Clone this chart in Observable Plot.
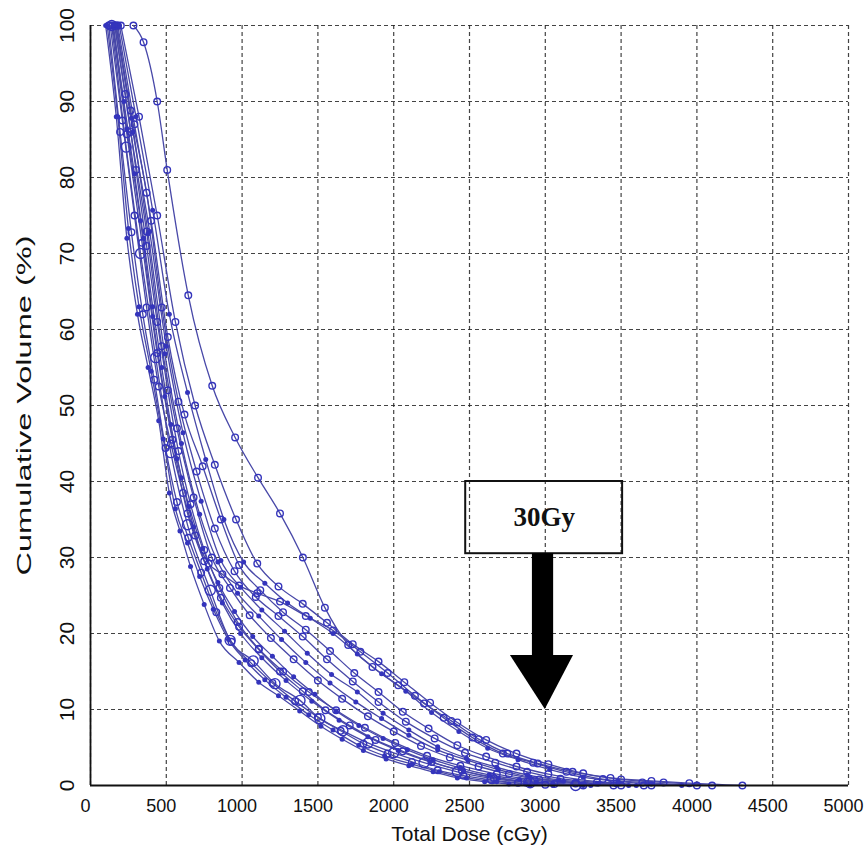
<!DOCTYPE html>
<html>
<head>
<meta charset="utf-8">
<script src="https://cdn.jsdelivr.net/npm/d3@7"></script>
<script src="https://cdn.jsdelivr.net/npm/@observablehq/plot@0.6"></script>
<style>
  html, body { margin: 0; padding: 0; background: white; }
  #chart svg { display: block; }
</style>
</head>
<body>
<div id="chart"></div>
<script>
// Each curve: [dose (cGy), cumulative volume (%)]
const curve01 = [[100,100],[170,88],[240,72],[310,62],[380,55],[450,48],[520,38.5],[590,33.5],[660,28.8],[750,23.8],[850,19],[980,16.2],[1110,13.6],[1240,11.8],[1380,9.8],[1520,7.8],[1660,6.1],[1800,4.6],[1950,3.5],[2100,2.6],[2260,1.8],[2420,1],[2600,0.5],[2760,0.2],[2900,0]];
const curve02 = [[120,100],[195,86],[270,72.8],[345,62],[420,53.4],[495,44.4],[570,37.3],[645,32.6],[730,28],[830,22.8],[930,18.9],[1060,16.1],[1200,13.5],[1350,11.1],[1500,9],[1650,7.2],[1800,5.5],[1960,4.2],[2120,3.1],[2290,2],[2460,1.3],[2640,0.75],[2820,0.35],[3000,0.1]];
const curve03 = [[140,100],[235,84],[330,70],[430,56.3],[530,43.8],[640,34.3],[790,25.7],[921,19.1],[1073,16.4],[1217,13.4],[1382,11.2],[1513,8.8],[1665,7.2],[1830,5.6],[2000,4.3],[2200,3],[2420,1.8],[2650,0.9],[2900,0.35],[3200,0]];
const curve04 = [[150,100],[240,86.4],[330,74.3],[410,61.7],[490,51.2],[570,43],[650,36.7],[740,31.2],[840,26.7],[950,22.9],[1070,19.6],[1200,17],[1340,14.3],[1480,12],[1620,9.8],[1770,7.9],[1930,6.2],[2090,4.7],[2260,3.4],[2440,2.3],[2630,1.4],[2830,0.8],[3050,0.3],[3300,0]];
const curve05 = [[160,100],[265,86],[370,72.9],[470,57.8],[570,47],[680,37.9],[800,30],[920,26],[1050,22.4],[1190,19.4],[1340,16.6],[1500,13.8],[1660,11.4],[1830,9.1],[2000,7.1],[2180,5.2],[2370,3.7],[2560,2.5],[2760,1.5],[2960,0.8],[3200,0.35],[3500,0]];
const curve06 = [[170,100],[280,86],[390,72.9],[500,57.8],[610,46.4],[730,37.4],[860,29.6],[990,26.1],[1130,23.1],[1280,20.3],[1430,17.4],[1590,14.6],[1760,12.3],[1930,9.5],[2100,7.3],[2290,5.1],[2480,3.6],[2680,2.4],[2880,1.4],[3090,0.75],[3340,0.3],[3600,0]];
const curve07 = [[180,100],[290,87],[400,74.3],[510,59],[620,48.8],[740,42],[860,35],[980,29],[1120,25.7],[1270,22.8],[1420,20.5],[1580,17.7],[1740,14.8],[1900,12.3],[2060,9.7],[2230,7.5],[2420,5.3],[2610,3.8],[2810,2.5],[3020,1.5],[3240,0.75],[3470,0.3],[3700,0]];
const curve08 = [[190,100],[300,88],[410,75.7],[520,62],[640,51.7],[760,42.9],[880,35],[1010,29.4],[1150,26.6],[1300,24],[1450,22],[1600,20],[1760,17.3],[1920,14.7],[2080,12.4],[2250,9.6],[2430,7.1],[2620,4.9],[2820,3.4],[3030,2.1],[3250,1.1],[3480,0.55],[3700,0.2],[3900,0]];
const curve09 = [[130,100],[210,87.5],[290,75],[370,62.9],[450,52.5],[530,45],[610,38.5],[690,32.9],[780,29.2],[870,27.8],[980,26.3],[1100,25.3],[1250,24.2],[1420,22.3],[1600,20.4],[1780,17.6],[1960,14.8],[2140,11.8],[2330,8.9],[2520,6.3],[2720,4.2],[2920,3],[3140,1.8],[3380,0.85],[3640,0.4],[4000,0]];
const curve10 = [[200,100],[320,88],[440,75],[560,61],[690,50],[820,42.2],[960,35],[1100,29.2],[1240,26.2],[1400,23.9],[1560,21.4],[1730,18.6],[1900,16.3],[2070,13.6],[2240,10.9],[2420,8.3],[2610,6],[2810,4.2],[3020,2.8],[3250,1.6],[3500,0.8],[3780,0.4],[4100,0]];
const curve11 = [[110,100],[180,88],[250,73.3],[320,63],[400,54.5],[480,45.6],[560,36.4],[640,31.9],[720,27.5],[810,23.2],[910,19.2],[1020,16.5],[1150,13.9],[1290,11.6],[1440,9.3],[1600,7.3],[1770,5.3],[1940,3.9],[2120,2.8],[2300,1.8],[2480,1],[2680,0.5],[2870,0.2],[3050,0]];
const curve12 = [[175,100],[265,88.8],[370,78],[470,62.9],[580,50.5],[700,41.3],[820,33.8],[950,28.2],[1090,24.8],[1240,22.3],[1400,19.6],[1560,16.6],[1730,13.7],[1900,11],[2080,8.4],[2270,6.2],[2470,4.3],[2670,3],[2880,1.8],[3100,0.9],[3340,0.4],[3650,0]];
const curve13 = [[165,100],[270,87.8],[380,72.6],[490,56.8],[600,45],[720,35.7],[840,29.4],[970,25.3],[1110,22.3],[1260,19.2],[1420,16.2],[1580,13.5],[1750,11],[1920,8.8],[2100,6.6],[2290,4.7],[2490,3.3],[2690,2.1],[2900,1.1],[3120,0.55],[3350,0.2],[3550,0]];
const curve14 = [[145,100],[240,85.7],[340,71.4],[440,56.9],[540,45.5],[640,35.8],[750,29.5],[860,24.7],[980,20.9],[1110,17.9],[1250,15],[1400,12.4],[1550,9.9],[1710,7.9],[1880,6],[2060,4.5],[2250,3.1],[2450,1.95],[2660,1],[2880,0.5],[3060,0.2],[3250,0]];
const curve15 = [[150,100],[220,90],[290,80.5],[350,72],[410,63],[470,55],[530,47.5],[600,40.5],[680,34],[770,28.5],[870,24],[990,20],[1130,16.8],[1290,13.8],[1460,11.1],[1640,8.6],[1830,6.4],[2030,4.6],[2240,3.1],[2460,1.9],[2690,1],[2940,0.4],[3250,0]];
const curve16 = [[160,100],[230,91],[300,81],[370,71],[440,61],[510,52],[580,44],[660,37],[750,31],[850,26],[970,21.5],[1110,18],[1270,15],[1440,12.3],[1620,9.9],[1810,7.6],[2010,5.6],[2220,3.9],[2440,2.6],[2680,1.5],[2930,0.7],[3200,0.25],[3450,0]];
const curve17 = [[283,100],[350,97.8],[440,90],[506,81],[645,64.5],[803,52.6],[954,45.8],[1105,40.5],[1250,35.8],[1401,30],[1546,23.4],[1700,18.5],[1860,15.6],[2030,13.2],[2200,10.8],[2380,8.5],[2560,6.1],[2750,4.2],[2950,2.9],[3180,1.8],[3430,1],[3700,0.6],[3950,0.3],[4300,0]];

const curveNames = ["c01","c02","c03","c04","c05","c06","c07","c08","c09","c10","c11","c12","c13","c14","c15","c16","c17"];
const curveData = [curve01,curve02,curve03,curve04,curve05,curve06,curve07,curve08,curve09,curve10,curve11,curve12,curve13,curve14,curve15,curve16,curve17];

// Tick values
const xTicks = [0,500,1000,1500,2000,2500,3000,3500,4000,4500,5000];
const yTicks = [0,10,20,30,40,50,60,70,80,90,100];

// Annotation (data units)
const annotationLabel = "30Gy";
const labelBox = {dose1: 2475, dose2: 3510, vol1: 30.5, vol2: 40};
const arrowShaft = {dose1: 2915, dose2: 3055, vol1: 17.1, vol2: 30.5};
const arrowHead = [{dose: 2770, vol: 17.1}, {dose: 3000, vol: 10}, {dose: 3186, vol: 17.1}];

// styles (kept apart from data)
const markerStyle = {c01:"dot",c02:"circle",c03:"big",c04:"dot",c05:"circle",c06:"dot",c07:"circle",c08:"dot",c09:"circle",c10:"circle",c11:"dot",c12:"circle",c13:"dot",c14:"circle",c15:"dot",c16:"circle",c17:"circle"};

const rows = [];
curveNames.forEach((name, i) => {
  curveData[i].forEach(([d, v]) => rows.push({curve: name, dose: d, volume: v, marker: markerStyle[name]}));
});

const lineColor = "#4848a8";
const markColor = "#3434bc";
const gridStyle = {stroke: "#222", strokeOpacity: 0.85, strokeDasharray: "4,3", strokeWidth: 1.2};

const chart = Plot.plot({
  width: 868,
  height: 858,
  marginTop: 25,
  marginBottom: 73,
  marginLeft: 90,
  marginRight: 20,
  style: {fontFamily: "'Liberation Sans', Arial, sans-serif", background: "white", color: "#111"},
  x: {domain: [0, 5000], axis: null},
  y: {domain: [0, 100], axis: null},
  marks: [
    Plot.gridX(xTicks, gridStyle),
    Plot.gridY(yTicks, gridStyle),
    Plot.line(rows, {x: "dose", y: "volume", z: "curve", stroke: lineColor, strokeWidth: 1.3, curve: "monotone-x"}),
    Plot.dot(rows.filter(d => d.marker === "circle"), {x: "dose", y: "volume", r: 3.3, stroke: markColor, strokeWidth: 1.4, fill: "none"}),
    Plot.dot(rows.filter(d => d.marker === "big"), {x: "dose", y: "volume", r: 5, stroke: markColor, strokeWidth: 1.4, fill: "none"}),
    Plot.dot(rows.filter(d => d.marker === "dot"), {x: "dose", y: "volume", r: 2.5, fill: markColor, stroke: "none"}),
    Plot.ruleX([0], {stroke: "#111", strokeWidth: 1.8}),
    Plot.ruleY([0], {stroke: "#111", strokeWidth: 1.8}),
    // annotation
    Plot.rect([labelBox], {x1: "dose1", x2: "dose2", y1: "vol1", y2: "vol2", fill: "none", stroke: "#111", strokeWidth: 2}),
    Plot.text([annotationLabel], {x: (labelBox.dose1 + labelBox.dose2) / 2, y: (labelBox.vol1 + labelBox.vol2) / 2, text: d => d, fontFamily: "'Liberation Serif', 'DejaVu Serif', serif", fontWeight: "bold", fontSize: 27, fill: "#111"}),
    Plot.rect([arrowShaft], {x1: "dose1", x2: "dose2", y1: "vol1", y2: "vol2", fill: "#000"}),
    Plot.areaY(arrowHead, {x: "dose", y1: "vol", y2: arrowHead[0].vol, fill: "#000", curve: "linear"}),
    // axes
    Plot.text(xTicks, {x: d => d, y: 0, text: d => String(d), dy: 21, dx: -5, fontSize: 18, fill: "#111"}),
    Plot.text(yTicks, {x: 0, y: d => d, text: d => String(d), rotate: -90, dx: -23, fontSize: 21, fill: "#111"}),
    Plot.text(["Total Dose (cGy)"], {frameAnchor: "bottom", textAnchor: "middle", dy: 55, fontSize: 21, fill: "#111"}),
    Plot.text(["Cumulative Volume (%)"], {frameAnchor: "left", textAnchor: "middle", dx: -66, rotate: -90, fontSize: 21, fill: "#111"})
  ]
});

// stretch the rotated axis title to the length it has in the reference
d3.select(chart).selectAll("text")
  .filter(function () { return this.textContent === "Cumulative Volume (%)"; })
  .attr("textLength", 340)
  .attr("lengthAdjust", "spacingAndGlyphs");

document.getElementById("chart").appendChild(chart);
</script>
</body>
</html>
